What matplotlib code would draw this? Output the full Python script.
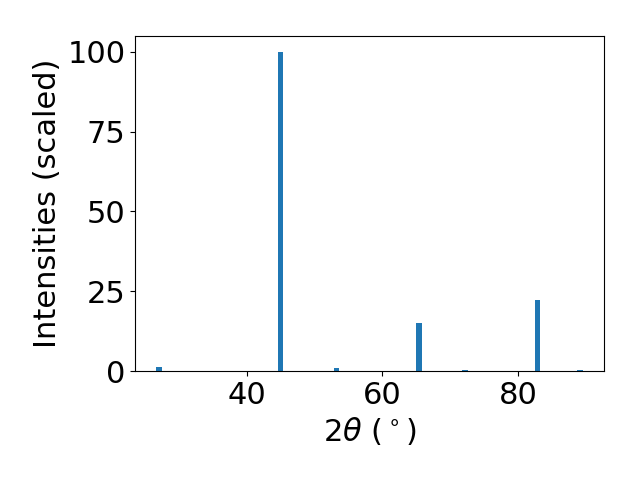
import matplotlib
matplotlib.use("Agg")
import matplotlib.pyplot as plt

# peak positions (2theta, deg) and scaled intensities
two_theta = [27.0, 44.9, 53.2, 65.4, 72.2, 82.9, 89.2]
intensity = [1.3, 100.0, 0.9, 15.2, 0.4, 22.4, 0.4]

plt.rcParams["font.size"] = 22
fig, ax = plt.subplots(figsize=(6.4, 4.8), dpi=100)
ax.bar(two_theta, intensity, width=0.8, color="#1f77b4")
ax.set_xlabel(r"$2\theta$ ($^\circ$)")
ax.set_ylabel("Intensities (scaled)")
ax.set_yticks([0, 25, 50, 75, 100])
ax.set_xticks([40, 60, 80])
fig.subplots_adjust(left=0.211, right=0.944, bottom=0.227, top=0.925)
fig.savefig("out.png")
